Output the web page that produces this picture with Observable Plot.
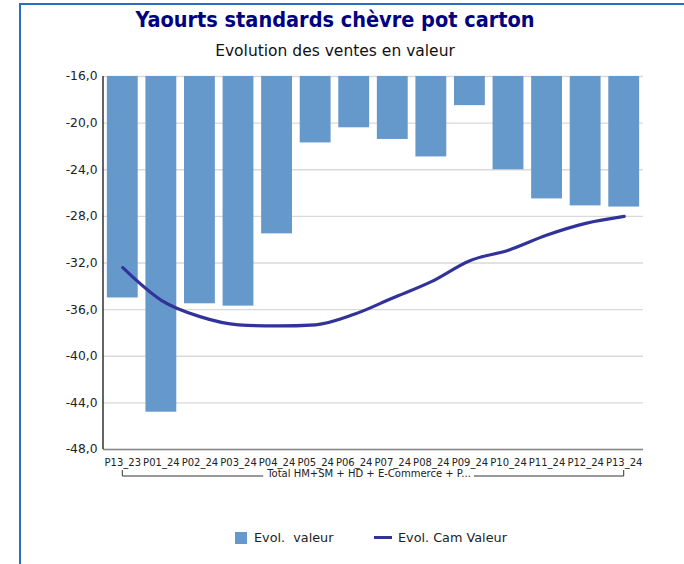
<!DOCTYPE html>
<html>
<head>
<meta charset="utf-8">
<script src="https://cdn.jsdelivr.net/npm/d3@7"></script>
<script src="https://cdn.jsdelivr.net/npm/@observablehq/plot@0.6"></script>
<style>
  html, body { margin: 0; padding: 0; background: #fff; }
  #wrap { position: relative; width: 684px; height: 564px; overflow: hidden; font-family: "DejaVu Sans", sans-serif; }
  .bl { position: absolute; background: #2A6EC0; }
  #title { position: absolute; left: 0; width: 670px; top: 7px; text-align: center; font-family: "DejaVu Sans Condensed", "DejaVu Sans", sans-serif; font-size: 21.5px; font-weight: bold; color: #000080; }
  #subtitle { position: absolute; left: 0; width: 670px; top: 42px; text-align: center; font-size: 15.5px; color: #111; }
  #chart { position: absolute; left: 0; top: 60px; }
  #legend { position: absolute; top: 528px; left: 0; width: 684px; font-size: 12.8px; color: #222; }
  .item { position: absolute; top: 0; white-space: pre; line-height: 20px; }
  .sw { display: inline-block; vertical-align: middle; }
</style>
</head>
<body>
<div id="wrap">
  <div class="bl" style="left:19px;top:3px;width:2px;height:561px"></div>
  <div class="bl" style="left:19px;top:3px;width:665px;height:2px"></div>
  <div id="title">Yaourts standards chèvre pot carton</div>
  <div id="subtitle">Evolution des ventes en valeur</div>
  <div id="chart"></div>
  <div id="legend"></div>
</div>
<script>
const categories = ["P13_23","P01_24","P02_24","P03_24","P04_24","P05_24","P06_24","P07_24","P08_24","P09_24","P10_24","P11_24","P12_24","P13_24"];
const evolValeur = [-35.0,-44.8,-35.5,-35.7,-29.5,-21.7,-20.4,-21.4,-22.9,-18.5,-24.0,-26.5,-27.1,-27.2];
const evolCamValeur = [-32.4,-35.2,-36.6,-37.3,-37.4,-37.3,-36.4,-35.0,-33.6,-31.8,-30.9,-29.6,-28.6,-28.0];
const yTicks = [-16,-20,-24,-28,-32,-36,-40,-44,-48];
const groupLabel = "Total HM+SM + HD + E-Commerce + P...";
const seriesNames = ["Evol.  valeur", "Evol. Cam Valeur"];

const barColor = "#6598CB";
const lineColor = "#32339A";
const yTop = d3.max(yTicks), yBottom = d3.min(yTicks);

const data = categories.map((c, i) => ({cat: c, val: evolValeur[i], cam: evolCamValeur[i]}));
const fmt = d => d.toFixed(1).replace(".", ",");

const W = 684, H = 440, mL = 103, mR = 41, mT = 16, mB = 51;

const plot = Plot.plot({
  width: W, height: H,
  marginLeft: mL, marginRight: mR, marginTop: mT, marginBottom: mB,
  style: {fontFamily: "DejaVu Sans, sans-serif", color: "#222", background: "transparent"},
  x: {type: "band", domain: categories, paddingInner: 0.2, paddingOuter: 0.1, round: false, label: null},
  y: {domain: [yBottom, yTop], label: null},
  marks: [
    Plot.gridY(yTicks, {stroke: "#d9d9d9", strokeOpacity: 1, strokeWidth: 1.3}),
    Plot.barY(data, {x: "cat", y1: yTop, y2: "val", fill: barColor}),
    Plot.ruleY([yBottom], {stroke: "#888", strokeWidth: 1.3}),
    Plot.lineY(data, {x: "cat", y: "cam", stroke: lineColor, strokeWidth: 3.2, curve: "monotone-x"}),
    Plot.axisY(yTicks, {tickSize: 0, tickPadding: 6, tickFormat: fmt, fontSize: 12.3, label: null}),
    Plot.axisX({tickSize: 0, tickPadding: 9, fontSize: 10, label: null})
  ]
});
document.getElementById("chart").appendChild(plot);

// y-axis line and category group bracket, placed through the plot's scales
const xs = plot.scale("x"), ys = plot.scale("y");
const svg = d3.select(plot);
const yPix = v => ys.apply(v);
svg.append("line")
  .attr("x1", mL).attr("x2", mL)
  .attr("y1", yPix(yTop)).attr("y2", yPix(yBottom))
  .attr("stroke", "#111").attr("stroke-width", 1.3);

const cx0 = xs.apply(categories[0]) + xs.bandwidth / 2;
const cx1 = xs.apply(categories[categories.length - 1]) + xs.bandwidth / 2;
const by = yPix(yBottom) + 27, bTop = by - 6;
const label = svg.append("text")
  .attr("x", (cx0 + cx1) / 2 - 4).attr("y", by + 1)
  .attr("text-anchor", "middle")
  .attr("font-size", 10).attr("fill", "#222")
  .text(groupLabel);
const bb = label.node().getBBox();
const g = svg.append("g").attr("stroke", "#333").attr("stroke-width", 1).attr("fill", "none");
g.append("path").attr("d", `M${cx0},${bTop}V${by}H${bb.x - 3}`);
g.append("path").attr("d", `M${bb.x + bb.width + 3},${by}H${cx1}V${bTop}`);

// legend
const leg = document.getElementById("legend");
leg.innerHTML =
  `<div class="item" style="left:235px"><span class="sw" style="width:12px;height:12px;background:${barColor};margin-right:7px;margin-top:-2px"></span>${seriesNames[0]}</div>` +
  `<div class="item" style="left:374px"><span class="sw" style="width:18px;height:3px;background:${lineColor};margin-right:6px;margin-top:-2px"></span>${seriesNames[1]}</div>`;
</script>
</body>
</html>
